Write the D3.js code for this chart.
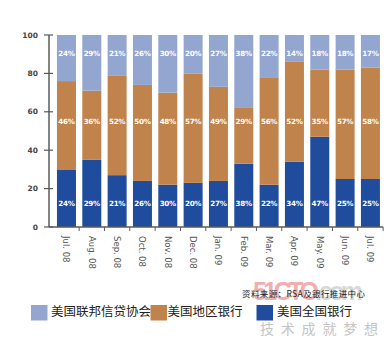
<!DOCTYPE html>
<html><head><meta charset="utf-8">
<script src="https://cdn.jsdelivr.net/npm/d3@7"></script>
<style>body{margin:0;background:#fff}svg{display:block}</style>
</head><body>
<script>
const categories = ["Jul. 08","Aug. 08","Sep. 08","Oct. 08","Nov. 08","Dec. 08","Jan. 09","Feb. 09","Mar. 09","Apr. 09","May. 09","Jun. 09","Jul. 09"];
// segment heights as drawn (percentage points)
const nationalBanks = [30,35,27,24,22,23,24,33,22,34,47,25,25];
const regionalBanks = [46,36,52,50,48,57,49,29,56,52,35,57,58];
const creditUnions  = [24,29,21,26,30,20,27,38,22,14,18,18,17];
// printed labels
const nationalLabels = ["24%","29%","21%","26%","30%","20%","27%","38%","22%","34%","47%","25%","25%"];
const regionalLabels = ["46%","36%","52%","50%","48%","57%","49%","29%","56%","52%","35%","57%","58%"];
const creditLabels   = ["24%","29%","21%","26%","30%","20%","27%","38%","22%","14%","18%","18%","17%"];
const yTicks = [0,20,40,60,80,100];
const seriesNames = ["美国联邦信贷协会","美国地区银行","美国全国银行"];
const colors = ["#93a6d0","#bf834b","#1f4c9c"];

const W=391,H=340;
const svg=d3.select("body").append("svg").attr("width",W).attr("height",H);
const x=d3.scaleBand().domain(categories).range([53.8,383.1]).paddingInner(0.25).paddingOuter(0.125);
const y=d3.scaleLinear().domain([0,100]).range([227,35]);
const font="DejaVu Sans, Verdana, sans-serif";

const rows=categories.map((c,i)=>({c,n:nationalBanks[i],r:regionalBanks[i],u:creditUnions[i]}));
const g=svg.append("g");
rows.forEach((d,i)=>{
  const bx=x(d.c), bw=x.bandwidth();
  g.append("rect").attr("x",bx).attr("width",bw).attr("y",y(d.n)).attr("height",y(0)-y(d.n)).attr("fill",colors[2]);
  g.append("rect").attr("x",bx).attr("width",bw).attr("y",y(d.n+d.r)).attr("height",y(d.n)-y(d.n+d.r)).attr("fill",colors[1]);
  g.append("rect").attr("x",bx).attr("width",bw).attr("y",y(100)).attr("height",y(d.n+d.r)-y(100)).attr("fill",colors[0]);
  const cx=bx+bw/2;
  [[creditLabels[i],y(90.3)],[regionalLabels[i],y(55.2)],[nationalLabels[i],y(12.5)]].forEach(([t,ty])=>{
    g.append("text").attr("x",cx).attr("y",ty).attr("dy","0.35em").attr("text-anchor","middle")
     .attr("fill","#fff").attr("font-family",font).attr("font-size",7.2).attr("font-weight","bold")
     .attr("letter-spacing",-0.3).text(t);
  });
});

// y axis
const axisColor="#5a5a5a";
svg.append("line").attr("x1",49).attr("x2",49).attr("y1",y(100)).attr("y2",y(0)).attr("stroke",axisColor).attr("stroke-width",1.5);
yTicks.forEach(t=>{
  svg.append("line").attr("x1",44).attr("x2",53).attr("y1",y(t)).attr("y2",y(t)).attr("stroke",axisColor).attr("stroke-width",1.2);
  svg.append("text").attr("x",38).attr("y",y(t)).attr("dy","0.35em").attr("text-anchor","end")
    .attr("font-family",font).attr("font-size",7.5).attr("font-weight","bold").attr("fill","#444").text(t);
});
// x axis
svg.append("line").attr("x1",49).attr("x2",383.1).attr("y1",y(0)).attr("y2",y(0)).attr("stroke",axisColor).attr("stroke-width",1.5);
categories.forEach(c=>{
  const tx=x(c)+x.bandwidth()+x.step()*x.paddingInner()/2;
  svg.append("line").attr("x1",tx).attr("x2",tx).attr("y1",y(0)).attr("y2",y(0)+4).attr("stroke",axisColor).attr("stroke-width",1);
  const cx=x(c)+x.bandwidth()/2;
  svg.append("text").attr("transform",`translate(${cx-3},236) rotate(90)`).attr("text-anchor","start")
    .attr("font-family",font).attr("font-size",8.5).attr("fill","#555").text(c);
});

// watermark
const wm=svg.append("text").attr("x",253).attr("y",300).attr("font-family","Liberation Sans, Arial, sans-serif").attr("font-weight","bold")
  .attr("font-size",25).attr("opacity",0.7).attr("textLength",110);
wm.append("tspan").attr("fill","#ec8c8c").text("51CTO");
wm.append("tspan").attr("fill","#c8c8c8").text(".com");
svg.append("text").attr("x",260).attr("y",334).attr("font-family","Noto Sans CJK SC").attr("font-size",14)
  .attr("fill","#c4c4c4").attr("textLength",118).text("技术成就梦想");
// source
svg.append("text").attr("x",242).attr("y",297).attr("font-family","Noto Sans CJK SC").attr("font-size",8.5)
  .attr("fill","#222").attr("textLength",123).text("资料来源：RSA及银行推进中心");

// legend
const legX=[31,150.5,256.5], legTX=[51,167.5,277];
seriesNames.forEach((s,i)=>{
  svg.append("rect").attr("x",legX[i]).attr("y",305).attr("width",16.5).attr("height",15.5).attr("fill",colors[i]);
  svg.append("text").attr("x",legTX[i]).attr("y",311.5).attr("dy","0.35em").attr("font-family","Noto Sans CJK SC")
    .attr("font-size",12.5).attr("fill","#222").text(s);
});
</script>
</body></html>
